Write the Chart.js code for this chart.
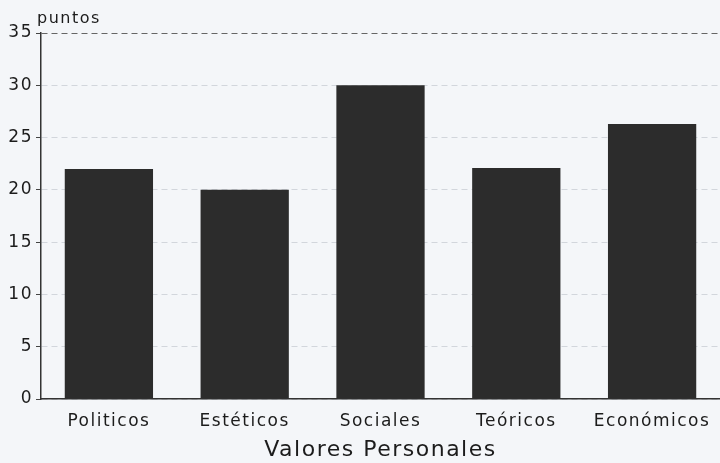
<!DOCTYPE html>
<html>
<head>
<meta charset="utf-8">
<script src="https://cdn.jsdelivr.net/npm/chart.js@4"></script>
<style>
  html, body { margin: 0; padding: 0; background: #f4f6f9; }
  #wrap { width: 720px; height: 463px; }
</style>
</head>
<body>
<div id="wrap"><canvas id="chart" width="720" height="463"></canvas></div>
<script>
const categories = ['Politicos', 'Estéticos', 'Sociales', 'Teóricos', 'Económicos'];
const puntos = [22, 20, 30, 22.1, 26.3];
const yMax = 35;
const yStep = 5;
const yLabel = 'puntos';
const xLabel = 'Valores Personales';

const FONT = '"DejaVu Sans", "Liberation Sans", Arial, sans-serif';
const INK = '#1c1c1c';

// scanned original has wide lettering; label above the y axis
const unitLabel = {
  id: 'unitLabel',
  beforeDraw(chart) {
    chart.ctx.letterSpacing = '1.5px';
  },
  afterDraw(chart) {
    const ctx = chart.ctx;
    const y = chart.scales.y;
    ctx.save();
    ctx.fillStyle = INK;
    ctx.font = '16px ' + FONT;
    ctx.textAlign = 'left';
    ctx.textBaseline = 'alphabetic';
    ctx.fillText(yLabel, y.right - 4, chart.chartArea.top - 10);
    ctx.restore();
  }
};

new Chart(document.getElementById('chart').getContext('2d'), {
  type: 'bar',
  data: {
    labels: categories,
    datasets: [{
      data: puntos,
      backgroundColor: '#2c2c2c',
      borderWidth: 0,
      categoryPercentage: 1,
      barPercentage: 0.65
    }]
  },
  options: {
    responsive: false,
    animation: false,
    layout: { padding: { top: 33, right: 0, left: 0, bottom: 0 } },
    plugins: {
      legend: { display: false },
      tooltip: { enabled: false }
    },
    scales: {
      y: {
        min: 0,
        max: yMax,
        afterFit(scale) { scale.width = 41; },
        ticks: {
          stepSize: yStep,
          color: INK,
          padding: 3,
          font: { family: FONT, size: 17 }
        },
        grid: {
          color: ctx => ctx.tick && ctx.tick.value === yMax ? '#666' : '#d2d6dc',
          lineWidth: 1,
          tickLength: 5,
          tickColor: '#444'
        },
        border: { color: '#333', width: 1.5, dash: [6, 4] }
      },
      x: {
        afterFit(scale) { scale.height = 64; },
        grid: { display: false },
        border: { color: '#333', width: 1.5 },
        ticks: {
          color: INK,
          padding: 4,
          font: { family: FONT, size: 17 }
        },
        title: {
          display: true,
          text: xLabel,
          color: INK,
          padding: { top: 0, bottom: 0 },
          font: { family: FONT, size: 22 }
        }
      }
    }
  },
  plugins: [unitLabel]
});
</script>
</body>
</html>
